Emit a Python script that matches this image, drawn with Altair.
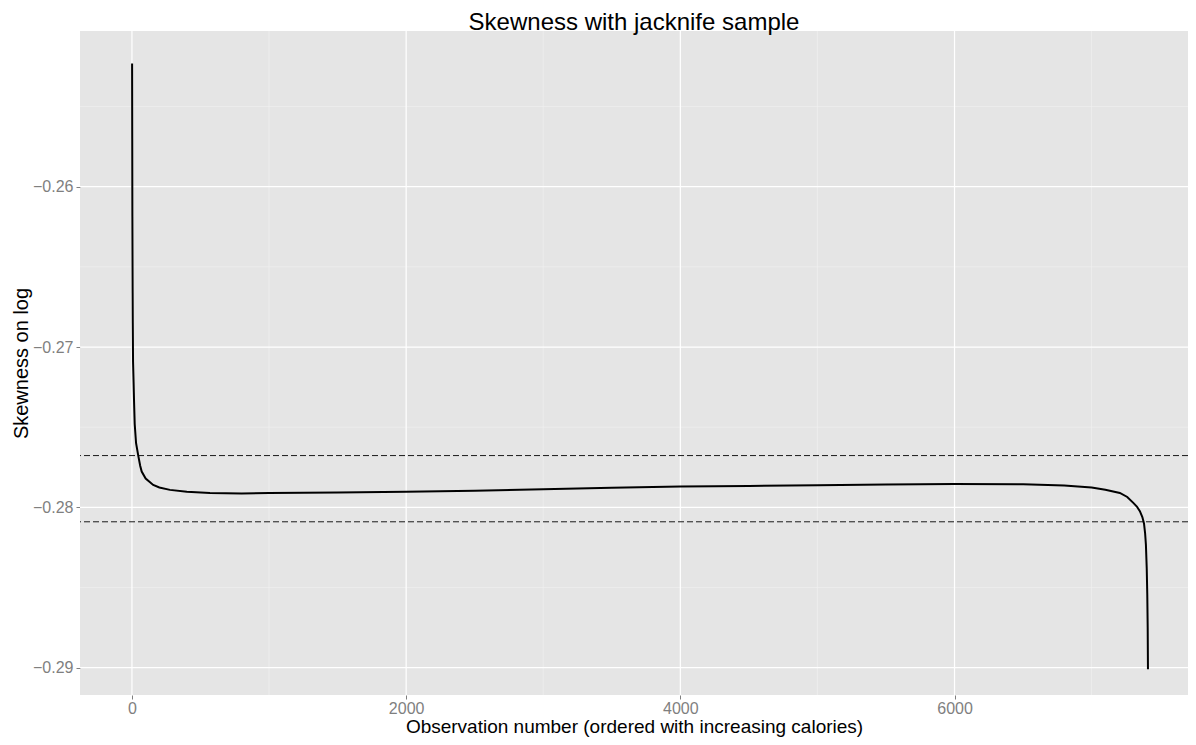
import altair as alt
import pandas as pd

# Jackknife skewness curve (observation number vs skewness on log)
obs = [1, 2, 3, 4, 5, 6, 8, 12, 15, 20, 30, 46, 60, 71, 100, 155, 200, 277, 400,
       569, 800, 1000, 1500, 2000, 2500, 3000, 3500, 4000, 4500, 5000, 5500, 6000,
       6500, 6800, 7000, 7100, 7206, 7260, 7304, 7330, 7352, 7370, 7382, 7390,
       7396, 7402, 7406, 7409, 7411]
skew = [-0.25231, -0.25700, -0.26187, -0.26450, -0.26663, -0.26850, -0.27093,
        -0.27224, -0.27330, -0.27480, -0.27600, -0.27677, -0.27740, -0.27777,
        -0.27820, -0.27860, -0.27876, -0.27891, -0.27903, -0.27911, -0.27913,
        -0.27911, -0.27908, -0.27903, -0.27896, -0.27887, -0.27878, -0.27870,
        -0.27866, -0.27862, -0.27858, -0.27855, -0.27856, -0.27863, -0.27876,
        -0.27890, -0.27910, -0.27935, -0.27972, -0.27995, -0.28024, -0.28060,
        -0.28100, -0.28160, -0.28233, -0.28380, -0.28546, -0.28750, -0.29009]

# Reference (dashed) lines
hlines = [-0.27677, -0.28090]

# Axis ticks and grid positions
x_major = [0, 2000, 4000, 6000]
x_minor = [1000, 3000, 5000, 7000]
y_major = [-0.26, -0.27, -0.28, -0.29]
y_minor = [-0.255, -0.265, -0.275, -0.285]

X_DOMAIN = [-379, 7703]
Y_DOMAIN = [-0.291703, -0.250289]
FONT = "Liberation Sans"

xscale = alt.Scale(domain=X_DOMAIN, nice=False, zero=False)
yscale = alt.Scale(domain=Y_DOMAIN, nice=False, zero=False)

xaxis = alt.Axis(values=x_major, format="d", title="Observation number (ordered with increasing calories)")
yaxis = alt.Axis(values=y_major, format=".2f", title="Skewness on log")

curve_df = pd.DataFrame({"x": obs, "y": skew})
hl_df = pd.DataFrame({"y": hlines})
xmin_df = pd.DataFrame({"x": x_minor})
xmaj_df = pd.DataFrame({"x": x_major})
ymin_df = pd.DataFrame({"y": y_minor})
ymaj_df = pd.DataFrame({"y": y_major})

def vrules(df, color, width):
    return alt.Chart(df).mark_rule(color=color, strokeWidth=width).encode(
        x=alt.X("x:Q", scale=xscale, axis=xaxis)
    )

def hrules(df, color, width, dash=None):
    kw = dict(color=color, strokeWidth=width)
    if dash:
        kw["strokeDash"] = dash
    return alt.Chart(df).mark_rule(**kw).encode(
        y=alt.Y("y:Q", scale=yscale, axis=yaxis)
    )

line = alt.Chart(curve_df).mark_line(color="black", strokeWidth=2).encode(
    x=alt.X("x:Q", scale=xscale, axis=xaxis),
    y=alt.Y("y:Q", scale=yscale, axis=yaxis),
    order="x:Q",
)

chart = alt.layer(
    vrules(xmin_df, "#F2F2F2", 0.6),
    hrules(ymin_df, "#F2F2F2", 0.6),
    vrules(xmaj_df, "#FFFFFF", 1.2),
    hrules(ymaj_df, "#FFFFFF", 1.2),
    hrules(hl_df, "#1A1A1A", 1, dash=[6, 3]),
    line,
).properties(
    width=1108,
    height=664,
    title=alt.TitleParams(
        "Skewness with jacknife sample",
        font=FONT, fontSize=24, fontWeight="normal", color="black",
        anchor="middle", baseline="alphabetic", offset=4, dy=28,
    ),
    autosize=alt.AutoSizeParams(type="none"),
    padding={"left": 72, "top": 23, "right": 0, "bottom": 42},
).configure_view(
    fill="#E5E5E5", stroke=None
).configure_axis(
    grid=False, domain=False,
    tickColor="#7F7F7F", tickSize=4, tickWidth=1,
    labelColor="#7F7F7F", labelFont=FONT, labelFontSize=16,
    titleFont=FONT, titleFontWeight="normal", titleColor="black",
).configure_axisX(
    labelPadding=1, titlePadding=1, titleFontSize=19,
).configure_axisY(
    labelPadding=3, titlePadding=1, titleFontSize=20,
)

chart.save("out.html", embed_options={"renderer": "svg", "actions": False})
